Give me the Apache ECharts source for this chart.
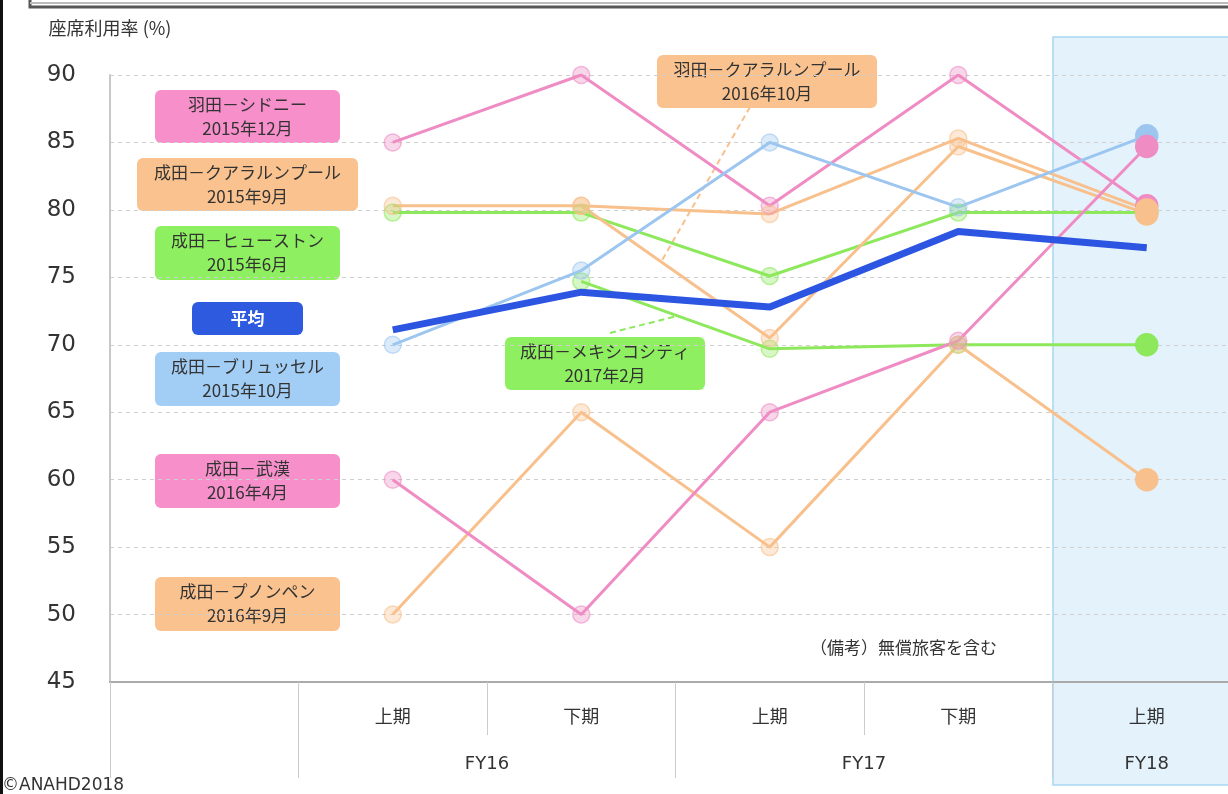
<!DOCTYPE html>
<html>
<head>
<meta charset="utf-8">
<script src="https://cdn.jsdelivr.net/npm/echarts@6/dist/echarts.min.js"></script>
<style>
  html, body { margin: 0; padding: 0; background: #fff; }
  #main { width: 1228px; height: 794px; }
</style>
</head>
<body>
<div id="main"></div>
<script>
// 横軸（先頭は凡例用の空きカテゴリ）
const periods = ['', '上期', '下期', '上期', '下期', '上期'];
// 年度ラベル（半区切りごと）
const fyLabels = ['', '', '', '', 'FY16', '', '', '', 'FY17', '', '', 'FY18', ''];

const hndSydney   = [null, 85, 90, 80.3, 90, 80.3];
const nrtWuhan    = [null, 60, 50, 65, 70.3, 84.7];
const nrtKul      = [null, 80.3, 80.3, 79.7, 85.3, 80];
const hndKul      = [null, null, 80.3, 70.5, 84.7, 79.7];
const nrtPnh      = [null, 50, 65, 55, 70, 60];
const nrtHouston  = [null, 79.8, 79.8, 75.1, 79.8, 79.8];
const nrtMexico   = [null, null, 74.7, 69.7, 70, 70];
const nrtBrussels = [null, 70, 75.5, 85, 80.2, 85.5];
const average     = [null, 71.1, 73.9, 72.8, 78.4, 77.2];

const PINK = '#ef8cc4', ORANGE = '#f8c08c', GREEN = '#8de85c', BLUE = '#9cc6f0', AVG = '#2c56e2';
const JP = "'Noto Sans CJK JP', sans-serif";
const NUM = "'DejaVu Sans', sans-serif";

function pale(hex, a) {
  let n = parseInt(hex.slice(1), 16);
  return `rgba(${n >> 16},${(n >> 8) & 255},${n & 255},${a})`;
}

function route(name, values, color) {
  return {
    name: name,
    type: 'line',
    symbol: 'circle',
    symbolSize: 17,
    connectNulls: false,
    lineStyle: { color: color, width: 3 },
    itemStyle: { color: pale(color, 0.35), borderColor: pale(color, 0.6), borderWidth: 1.5 },
    data: values.map((v, i) => i === values.length - 1
      ? { value: v, symbolSize: 22, itemStyle: { color: color, borderColor: color } }
      : v)
  };
}

// 凡例ボックス
function box(x, y, w, h, fill, lines, textColor, bold) {
  return {
    type: 'group', x: x, y: y,
    children: [
      { type: 'rect', shape: { x: 0, y: 0, width: w, height: h, r: 6 }, style: { fill: fill } },
      { type: 'text', x: w / 2, y: h / 2,
        style: { text: lines, fill: textColor || '#333', font: (bold ? 'bold ' : '') + '17px ' + JP,
                 align: 'center', verticalAlign: 'middle', lineHeight: 24 } }
    ]
  };
}

let myChart = echarts.init(document.getElementById('main'));

let option = {
  animation: false,
  grid: { left: 110, top: 75, width: 1131, height: 607, outerBoundsMode: 'none', containLabel: false },
  xAxis: [
    {
      type: 'category',
      data: periods,
      boundaryGap: true,
      axisLine: { lineStyle: { color: '#aaa', width: 2 } },
      axisTick: { show: true, length: 53, lineStyle: { color: '#ccc' } },
      axisLabel: { fontSize: 18, color: '#333', margin: 25, fontFamily: JP }
    },
    {
      type: 'category',
      data: fyLabels,
      boundaryGap: false,
      position: 'bottom',
      axisLine: { show: false },
      axisTick: {
        show: true, length: 96, lineStyle: { color: '#ccc' },
        interval: function (i) { return [0, 2, 6, 10].indexOf(i) >= 0; }
      },
      axisLabel: { interval: 0, fontSize: 18, color: '#333', margin: 73, fontFamily: NUM }
    }
  ],
  yAxis: {
    type: 'value',
    min: 45,
    max: 90,
    interval: 5,
    name: '座席利用率 (%)',
    nameLocation: 'end',
    nameGap: 38,
    nameTextStyle: { fontSize: 18, color: '#333', fontFamily: JP },
    axisLine: { show: true, lineStyle: { color: '#c8c8c8', width: 2 } },
    axisTick: { show: false },
    axisLabel: { fontSize: 23, color: '#333', margin: 34, fontFamily: NUM },
    splitLine: { lineStyle: { color: '#cfcfcf', type: [4, 4] } }
  },
  graphic: {
    elements: [
      // FY18 の網掛け
      { type: 'rect', z: -10, shape: { x: 1053, y: 37, width: 190, height: 748 },
        style: { fill: '#e4f2fc', stroke: '#a6d6f1', lineWidth: 1.5 } },
      // 枠線
      { type: 'rect', shape: { x: 0, y: 0, width: 3, height: 794 }, style: { fill: '#111' } },
      { type: 'rect', shape: { x: 30, y: -12, width: 1215, height: 19 },
        style: { fill: 'none', stroke: '#555', lineWidth: 3 } },
      { type: 'line', shape: { x1: 30, y1: 3, x2: 1228, y2: 3 }, style: { stroke: '#bbb', lineWidth: 2 } },
      // 引出線
      { type: 'line', shape: { x1: 750, y1: 107, x2: 661, y2: 262 },
        style: { stroke: ORANGE, lineWidth: 2, lineDash: [6, 4] } },
      { type: 'line', shape: { x1: 610, y1: 333, x2: 677, y2: 316 },
        style: { stroke: GREEN, lineWidth: 2, lineDash: [6, 4] } },
      box(155, 90, 185, 53, '#f68fca', '羽田－シドニー\n2015年12月'),
      box(137, 158, 221, 53, '#f9c28e', '成田－クアラルンプール\n2015年9月'),
      box(155, 226, 185, 54, '#8ef060', '成田－ヒューストン\n2015年6月'),
      box(192, 302, 111, 33, '#2e5ae0', '平均', '#fff', true),
      box(155, 352, 185, 54, '#a2cef5', '成田－ブリュッセル\n2015年10月'),
      box(155, 454, 185, 54, '#f68fca', '成田－武漢\n2016年4月'),
      box(155, 577, 185, 54, '#f9c28e', '成田－プノンペン\n2016年9月'),
      box(657, 55, 220, 53, '#f9c28e', '羽田－クアラルンプール\n2016年10月'),
      box(505, 337, 200, 53, '#8ef060', '成田－メキシコシティ\n2017年2月'),
      { type: 'text', x: 810, y: 648,
        style: { text: '（備考）無償旅客を含む', fill: '#333', font: '17px ' + JP, verticalAlign: 'middle' } },
      { type: 'text', x: 2, y: 786,
        style: { text: '©ANAHD2018', fill: '#333', font: '17px ' + NUM, verticalAlign: 'middle' } }
    ]
  },
  series: [
    route('羽田－シドニー', hndSydney, PINK),
    route('成田－ヒューストン', nrtHouston, GREEN),
    route('成田－メキシコシティ', nrtMexico, GREEN),
    route('成田－クアラルンプール', nrtKul, ORANGE),
    route('羽田－クアラルンプール', hndKul, ORANGE),
    route('成田－プノンペン', nrtPnh, ORANGE),
    route('成田－ブリュッセル', nrtBrussels, BLUE),
    route('成田－武漢', nrtWuhan, PINK),
    {
      name: '平均',
      type: 'line',
      showSymbol: false,
      symbol: 'none',
      lineStyle: { color: AVG, width: 7 },
      itemStyle: { color: AVG },
      data: average,
      z: 5
    }
  ]
};

myChart.setOption(option);
</script>
</body>
</html>
